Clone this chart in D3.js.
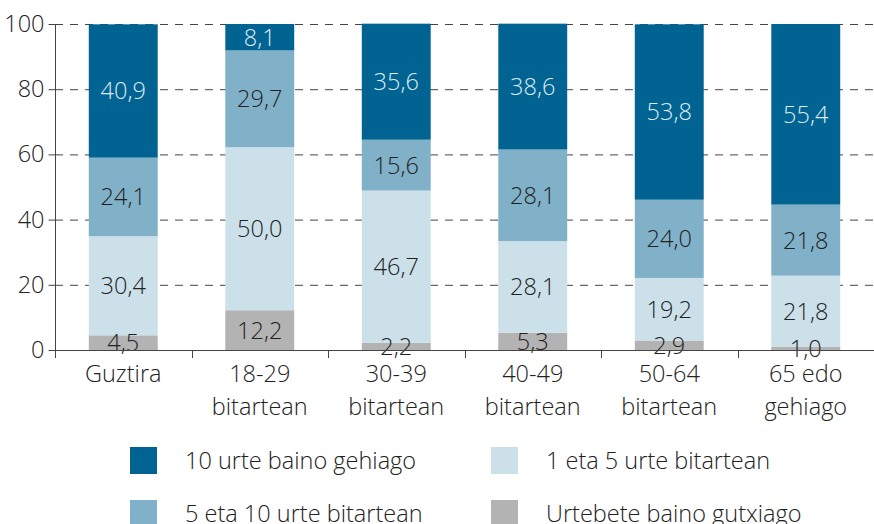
<!DOCTYPE html>
<html>
<head>
<meta charset="utf-8">
<script src="https://cdn.jsdelivr.net/npm/d3@7"></script>
<style>
  body { margin: 0; background: #fff; }
  svg text { font-family: "Open Sans", "Noto Sans", sans-serif; font-weight: 300; }
</style>
</head>
<body>
<div id="chart"></div>
<script>
// categories (two-line labels)
var categories = ["Guztira", "18-29 bitartean", "30-39 bitartean", "40-49 bitartean", "50-64 bitartean", "65 edo gehiago"];
var catLines = [["Guztira"], ["18-29", "bitartean"], ["30-39", "bitartean"], ["40-49", "bitartean"], ["50-64", "bitartean"], ["65 edo", "gehiago"]];

// series, stacked bottom to top
var seriesNames = ["Urtebete baino gutxiago", "1 eta 5 urte bitartean", "5 eta 10 urte bitartean", "10 urte baino gehiago"];
var lessThan1 = [4.5, 12.2, 2.2, 5.3, 2.9, 1.0];
var from1to5 = [30.4, 50.0, 46.7, 28.1, 19.2, 21.8];
var from5to10 = [24.1, 29.7, 15.6, 28.1, 24.0, 21.8];
var moreThan10 = [40.9, 8.1, 35.6, 38.6, 53.8, 55.4];
var yTicks = [0, 20, 40, 60, 80, 100];

var colors = ["#b3b3b3", "#cce0ea", "#80b1c9", "#006391"];
var textColors = ["#222", "#222", "#222", "#dcebf3"];

var W = 874, H = 524;
var margin = {left: 55, right: 0, top: 24, bottom: 174};
var fs = "23.5px";

var svg = d3.select("#chart").append("svg")
    .attr("width", W)
    .attr("height", H);

var x = d3.scaleBand()
    .domain(categories)
    .range([margin.left, W - margin.right])
    .paddingInner(0.495)
    .paddingOuter(0.2475);

var y = d3.scaleLinear()
    .domain([0, 100])
    .range([H - margin.bottom, margin.top]);

// build stack table
var table = categories.map(function(c, i) {
  return {cat: c, s0: lessThan1[i], s1: from1to5[i], s2: from5to10[i], s3: moreThan10[i]};
});
var stack = d3.stack().keys(["s0", "s1", "s2", "s3"]);
var layers = stack(table);

// gridlines
svg.append("g")
  .selectAll("line")
  .data(yTicks.filter(function(d) { return d > 0; }))
  .enter().append("line")
    .attr("x1", margin.left)
    .attr("x2", W)
    .attr("y1", function(d) { return y(d) + 0.5; })
    .attr("y2", function(d) { return y(d) + 0.5; })
    .attr("stroke", "#444")
    .attr("stroke-width", 1)
    .attr("stroke-dasharray", "8,7");

// bars
var groups = svg.append("g").selectAll("g")
    .data(layers)
    .enter().append("g")
    .attr("fill", function(d, i) { return colors[i]; });

groups.selectAll("rect")
    .data(function(d) { return d; })
    .enter().append("rect")
    .attr("x", function(d) { return x(d.data.cat); })
    .attr("width", x.bandwidth())
    .attr("y", function(d) { return y(Math.min(d[1], 100.1)); })
    .attr("height", function(d) { return y(d[0]) - y(Math.min(d[1], 100.1)); });

// value labels
layers.forEach(function(layer, li) {
  svg.append("g").selectAll("text")
    .data(layer)
    .enter().append("text")
    .attr("x", function(d) { return x(d.data.cat) + x.bandwidth() / 2; })
    .attr("y", function(d) { return (y(d[0]) + y(Math.min(d[1], 100))) / 2; })
    .attr("dy", "0.36em")
    .attr("text-anchor", "middle")
    .attr("fill", textColors[li])
    .attr("font-size", fs)
    .text(function(d) { return d3.format(".1f")(d[1] - d[0]).replace(".", ","); });
});

// y axis
var yAxis = svg.append("g")
    .attr("transform", "translate(" + (margin.left + 0.5) + ",0)")
    .call(d3.axisLeft(y).tickValues(yTicks).tickSize(7).tickPadding(4));
yAxis.select(".domain").attr("d", "M0," + y(100) + "V" + (y(0) + 8)).attr("stroke", "#444");
yAxis.selectAll(".tick line").attr("stroke", "#444");
yAxis.selectAll("text")
    .attr("font-size", fs)
    .attr("fill", "#222")
    .attr("font-family", null);

// x axis line and separators
svg.append("line")
    .attr("x1", margin.left).attr("x2", W)
    .attr("y1", y(0) + 0.5).attr("y2", y(0) + 0.5)
    .attr("stroke", "#444").attr("stroke-width", 1.2);

svg.append("g").selectAll("line")
    .data(categories.slice(1))
    .enter().append("line")
    .attr("x1", function(d) { return Math.round(x(d) - x.step() * x.paddingInner() / 2) + 0.5; })
    .attr("x2", function(d) { return Math.round(x(d) - x.step() * x.paddingInner() / 2) + 0.5; })
    .attr("y1", y(0))
    .attr("y2", y(0) + 8)
    .attr("stroke", "#444");

// category labels
var catText = svg.append("g").selectAll("text")
    .data(categories)
    .enter().append("text")
    .attr("x", function(d) { return x(d) + x.bandwidth() / 2; })
    .attr("y", y(0) + 32)
    .attr("text-anchor", "middle")
    .attr("fill", "#222")
    .attr("font-size", fs);
catText.selectAll("tspan")
    .data(function(d, i) { return catLines[i]; })
    .enter().append("tspan")
    .attr("x", function() { return d3.select(this.parentNode).attr("x"); })
    .attr("dy", function(d, i) { return i === 0 ? 0 : 33; })
    .text(function(d) { return d; });

// legend
var legendOrder = [3, 1, 2, 0];
var legend = svg.append("g").selectAll("g")
    .data(legendOrder)
    .enter().append("g")
    .attr("transform", function(d, i) {
      return "translate(" + (130 + (i % 2) * 361) + "," + (447 + Math.floor(i / 2) * 53) + ")";
    });
legend.append("rect")
    .attr("width", 27)
    .attr("height", 27)
    .attr("fill", function(d) { return colors[d]; });
legend.append("text")
    .attr("x", 55)
    .attr("y", 13.5)
    .attr("dy", "0.36em")
    .attr("fill", "#222")
    .attr("font-size", fs)
    .text(function(d) { return seriesNames[d]; });
</script>
</body>
</html>
